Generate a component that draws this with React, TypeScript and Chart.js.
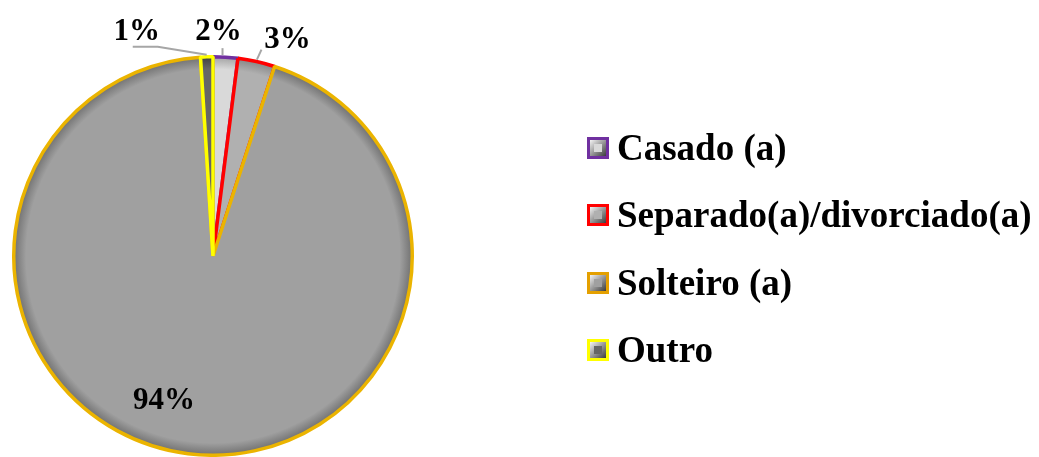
import React, { useEffect, useRef } from "react";
import { Chart, registerables } from "chart.js";

Chart.register(...registerables);

const categories = ["Casado (a)", "Separado(a)/divorciado(a)", "Solteiro (a)", "Outro"];
const values = [2, 3, 94, 1];
const percentLabels = ["2%", "3%", "94%", "1%"];
const fillColors = ["#d9d9d9", "#b0b0b0", "#a0a0a0", "#666666"];
const edgeColors = ["#9a9a9a", "#808080", "#6a6a6a", "#3a3a3a"];
const borderColors = ["#7030a0", "#ff0000", "#ebb400", "#ffff00"];
const legendBorderColors = ["#7030a0", "#ff0000", "#e4a000", "#ffff00"];

// label placement relative to each slice's anchor point
const labelPlacement = [
  { inside: false, dx: -7, dy: -17, line: "down", sx: 4, sy: 8 },
  { inside: false, dx: 31, dy: -14, line: "straight", sx: -26, sy: 2 },
  { inside: true, dx: -31, dy: 11, line: "none", sx: 0, sy: 0 },
  { inside: false, dx: -70, dy: -17, line: "elbow", sx: -4, sy: 7 },
];

const FONT = "'Liberation Serif', 'Times New Roman', serif";

const labelPlugin = {
  id: "pctLabels",
  afterDatasetsDraw(chart: any) {
    const ctx = chart.ctx;
    const meta = chart.getDatasetMeta(0);
    ctx.save();
    meta.data.forEach((arc: any, i: number) => {
      const p = arc.getProps(["x", "y", "startAngle", "endAngle", "outerRadius"], true);
      const mid = (p.startAngle + p.endAngle) / 2;
      const pl = labelPlacement[i];
      const r = pl.inside ? p.outerRadius * 0.72 : p.outerRadius;
      const ax = p.x + Math.cos(mid) * r;
      const ay = p.y + Math.sin(mid) * r;
      const lx = ax + pl.dx;
      const ly = ay + pl.dy;
      ctx.font = `bold 31px ${FONT}`;
      ctx.fillStyle = "#000";
      ctx.textAlign = "center";
      ctx.textBaseline = "alphabetic";
      ctx.fillText(percentLabels[i], lx, ly);
      ctx.strokeStyle = "#a6a6a6";
      ctx.lineWidth = 2;
      const ix = p.x + Math.cos(mid) * (p.outerRadius + 2);
      const iy = p.y + Math.sin(mid) * (p.outerRadius + 2);
      const sx = lx + pl.sx;
      const sy = ly + pl.sy;
      ctx.beginPath();
      if (pl.line === "straight") {
        ctx.moveTo(sx, sy);
        ctx.lineTo(ix, iy);
      } else if (pl.line === "down") {
        ctx.moveTo(sx, sy);
        ctx.lineTo(sx, iy);
      } else if (pl.line === "elbow") {
        ctx.moveTo(sx, sy);
        ctx.lineTo(sx + 25, sy);
        ctx.lineTo(ix, iy);
      }
      ctx.stroke();
    });
    ctx.restore();
  },
};

const legendPlugin = {
  id: "sideLegend",
  afterDraw(chart: any) {
    const ctx = chart.ctx;
    ctx.save();
    const x0 = 587;
    const rows = [148, 215, 283, 350];
    categories.forEach((c, i) => {
      const cy = rows[i];
      const s = 22;
      const bx = x0;
      const by = cy - s / 2;
      ctx.fillStyle = legendBorderColors[i];
      ctx.fillRect(bx, by, s, s);
      const g = ctx.createLinearGradient(bx + 3, by + 3, bx + s - 3, by + s - 3);
      g.addColorStop(0, "#f4f4f4");
      g.addColorStop(1, "#3c3c3c");
      ctx.fillStyle = g;
      ctx.fillRect(bx + 3, by + 3, s - 6, s - 6);
      ctx.fillStyle = fillColors[i];
      ctx.fillRect(bx + 7, by + 7, s - 14, s - 14);
      ctx.font = `bold 37px ${FONT}`;
      ctx.fillStyle = "#000";
      ctx.textAlign = "left";
      ctx.textBaseline = "middle";
      ctx.fillText(c, 617, cy + 2);
    });
    ctx.restore();
  },
};

function shadedFill(c: any) {
  const i = c.dataIndex;
  const chart = c.chart;
  const area = chart.chartArea;
  if (!area) return fillColors[i];
  const cx = (area.left + area.right) / 2;
  const cy = (area.top + area.bottom) / 2;
  const r = Math.min(area.right - area.left, area.bottom - area.top) / 2;
  const g = chart.ctx.createRadialGradient(cx, cy, 0, cx, cy, r);
  g.addColorStop(0, fillColors[i]);
  g.addColorStop(0.93, fillColors[i]);
  g.addColorStop(1, edgeColors[i]);
  return g;
}

export default function App() {
  const ref = useRef<HTMLCanvasElement | null>(null);
  useEffect(() => {
    document.body.style.margin = "0";
    const chart = new Chart(ref.current as HTMLCanvasElement, {
      type: "pie",
      data: {
        labels: categories,
        datasets: [
          {
            data: values,
            backgroundColor: shadedFill as any,
            borderColor: borderColors,
            borderWidth: 3.5,
          },
        ],
      },
      options: {
        animation: false,
        responsive: false,
        layout: { padding: { left: 12, top: 55, right: 625, bottom: 0 } },
        plugins: {
          legend: { display: false },
          tooltip: { enabled: false },
        },
      },
      plugins: [labelPlugin, legendPlugin],
    });
    return () => chart.destroy();
  }, []);
  return (
    <div style={{ width: 1039, height: 457, background: "#fff" }}>
      <canvas ref={ref} width={1039} height={457} />
    </div>
  );
}
